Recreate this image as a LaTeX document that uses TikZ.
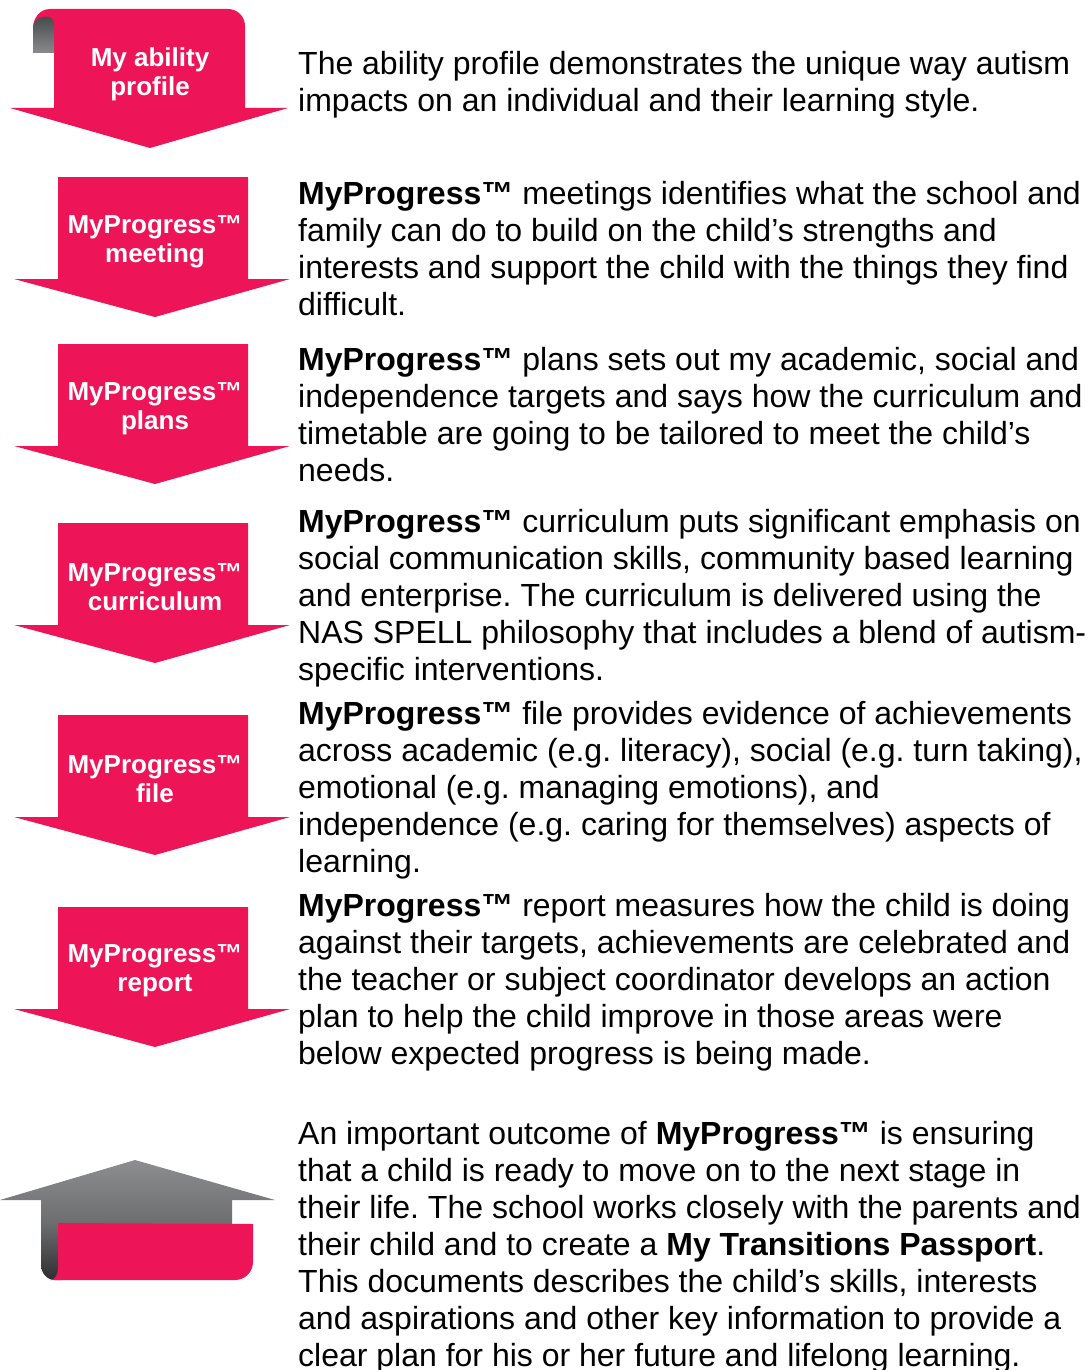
\documentclass[tikz,border=0pt]{standalone}
\usepackage{fontspec}
\setmainfont{Liberation Sans}
\frenchspacing
\definecolor{brandpink}{HTML}{ED1558}
\definecolor{gtop}{HTML}{8E8E91}
\definecolor{gmid}{HTML}{6C6D6F}
\definecolor{gbot}{HTML}{2E2E30}
\definecolor{ftop}{HTML}{474C4D}
\definecolor{fbot}{HTML}{8A8A8C}
\newcommand{\pl}[1]{\hbox{#1}}
\tikzset{
  para/.style={anchor=base west,inner sep=0pt,text=black,font=\fontsize{32}{37}\selectfont},
  lab/.style={inner sep=0pt,text=white,align=center,font=\fontsize{26}{29}\selectfont\bfseries},
  arrowbody/.style={fill=brandpink,draw=none}
}
\newcommand{\pinkarrow}[1]{% y offset (top of body)
  \fill[arrowbody] (58,#1) -- (248,#1) -- (248,#1+102) -- (290,#1+102) -- (155,#1+140) -- (14,#1+102) -- (58,#1+102) -- cycle;
}
\begin{document}
\begin{tikzpicture}[x=1pt,y=-1pt]
\useasboundingbox (0,0) rectangle (1091,1370);
% first arrow, with rounded top and fold
\fill[arrowbody] (54,108) -- (54,53) -- (33,53) -- (33,28) to[out=90,in=180] (50,9) -- (228,9) to[out=0,in=90] (245,26) -- (245,108) -- (288,108) -- (150,148) -- (10,108) -- cycle;
\shade[top color=ftop, bottom color=fbot] (33,53) -- (33,28) to[out=90,in=180] (44,17) -- (48,17) to[out=0,in=90] (54,24) -- (54,53) -- cycle;
\pinkarrow{177}
\pinkarrow{344}
\pinkarrow{523}
\pinkarrow{715}
\pinkarrow{907}
% graduation arrow
\shade[top color=gtop, bottom color=gmid] (135,1160) -- (275,1200) -- (232,1200) -- (232,1224) -- (41,1224) -- (41,1200) -- (0,1200) -- cycle;
\shade[top color=gmid, bottom color=gbot] (41,1223.5) -- (62,1223.5) -- (62,1280) -- (55,1280) to[out=180,in=-90] (41,1265) -- cycle;
\fill[brandpink] (58,1223) -- (253,1224) -- (253,1262) to[out=-90,in=0] (235,1280) -- (50,1280) to[out=0,in=-90] (58,1268) -- cycle;
% arrow labels
\node[lab] (l1) at (150,74) {My ability\\profile};
\node[lab] (l2) at (155,242) {MyProgress™\\meeting};
\node[lab] (l3) at (155,409) {MyProgress™\\plans};
\node[lab] (l4) at (155,587) {MyProgress™\\curriculum};
\node[lab] (l5) at (155,779) {MyProgress™\\file};
\node[lab] (l6) at (155,971) {MyProgress™\\report};
% paragraphs
\node[para] (p1) at (298,75) {\vtop{\pl{The ability profile demonstrates the unique way autism}\pl{impacts on an individual and their learning style.}}};
\node[para] (p2) at (298,204) {\vtop{\pl{\textbf{MyProgress™} meetings identifies what the school and}\pl{family can do to build on the child’s strengths and}\pl{interests and support the child with the things they find}\pl{difficult.}}};
\node[para] (p3) at (298,370) {\vtop{\pl{\textbf{MyProgress™} plans sets out my academic, social and}\pl{independence targets and says how the curriculum and}\pl{timetable are going to be tailored to meet the child’s}\pl{needs.}}};
\node[para] (p4) at (298,532) {\vtop{\pl{\textbf{MyProgress™} curriculum puts significant emphasis on}\pl{social communication skills, community based learning}\pl{and enterprise. The curriculum is delivered using the}\pl{NAS SPELL philosophy that includes a blend of autism-}\pl{specific interventions.}}};
\node[para] (p5) at (298,724) {\vtop{\pl{\textbf{MyProgress™} file provides evidence of achievements}\pl{across academic (e.g. literacy), social (e.g. turn taking),}\pl{emotional (e.g. managing emotions), and}\pl{independence (e.g. caring for themselves) aspects of}\pl{learning.}}};
\node[para] (p6) at (298,916) {\vtop{\pl{\textbf{MyProgress™} report measures how the child is doing}\pl{against their targets, achievements are celebrated and}\pl{the teacher or subject coordinator develops an action}\pl{plan to help the child improve in those areas were}\pl{below expected progress is being made.}}};
\node[para] (p7) at (298,1144) {\vtop{\pl{An important outcome of \textbf{MyProgress™} is ensuring}\pl{that a child is ready to move on to the next stage in}\pl{their life. The school works closely with the parents and}\pl{their child and to create a \textbf{My Transitions Passport}.}\pl{This documents describes the child’s skills, interests}\pl{and aspirations and other key information to provide a}\pl{clear plan for his or her future and lifelong learning.}}};
\end{tikzpicture}
\end{document}
